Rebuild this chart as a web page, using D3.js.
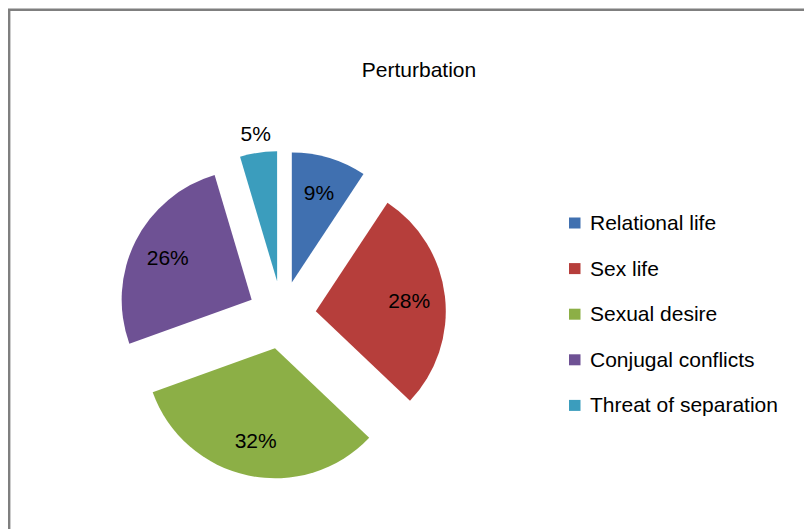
<!DOCTYPE html>
<html>
<head>
<meta charset="utf-8">
<script src="https://cdn.jsdelivr.net/npm/d3@7"></script>
<style>
    html, body { margin: 0; padding: 0; background: #fff; }
    svg { display: block; font-family: Arial, "Liberation Sans", sans-serif; }
</style>
</head>
<body>
<div id="chart"></div>
<script>
// Chart data (shares; labels show them rounded)
const categories = ['Relational life', 'Sex life', 'Sexual desire', 'Conjugal conflicts', 'Threat of separation'];
const values = [9.3, 27.8, 32.4, 25.9, 4.6];
const colors = ['#4070B0', '#B63E3B', '#8CAF46', '#6E5194', '#3B9DBD'];
const title = 'Perturbation';

const width = 804;
const height = 529;
const center = { x: 282, y: 315 };
const radius = 130;
const explode = 34;

const svg = d3.select('#chart')
    .append('svg')
    .attr('width', width)
    .attr('height', height);

// Chart frame (clipped on the right and bottom)
svg.append('path')
    .attr('d', `M9.2,${height} V9.7 H${width}`)
    .attr('fill', 'none')
    .attr('stroke', '#7F7F7F')
    .attr('stroke-width', 2.4);

// Title
svg.append('text')
    .attr('x', 419)
    .attr('y', 76.7)
    .attr('text-anchor', 'middle')
    .attr('font-size', 21)
    .attr('fill', '#000')
    .text(title);

const total = d3.sum(values);
const data = categories.map((name, i) => ({ name, value: values[i], color: colors[i] }));

const pie = d3.pie()
    .value(d => d.value)
    .sort(null);

const arc = d3.arc()
    .innerRadius(0)
    .outerRadius(radius);

const insideLabel = d3.arc().innerRadius(94).outerRadius(94);
const outsideLabel = d3.arc().innerRadius(radius + 19).outerRadius(radius + 19);

const slices = svg.append('g')
    .attr('transform', `translate(${center.x},${center.y})`)
    .selectAll('g')
    .data(pie(data))
    .join('g')
    .attr('transform', d => {
        const mid = (d.startAngle + d.endAngle) / 2;
        return `translate(${explode * Math.sin(mid)},${-explode * Math.cos(mid)})`;
    });

slices.append('path')
    .attr('d', arc)
    .attr('fill', d => d.data.color);

// Data labels: small slices get their label outside
slices.append('text')
    .attr('transform', d => {
        const small = d.data.value < 6;
        const pos = (small ? outsideLabel : insideLabel).centroid(d);
        return `translate(${pos[0]},${pos[1]})`;
    })
    .attr('dy', '0.35em')
    .attr('text-anchor', 'middle')
    .attr('font-size', 21)
    .attr('fill', '#000')
    .text(d => Math.round(d.data.value / total * 100) + '%');

// Legend
const legend = svg.append('g')
    .attr('transform', 'translate(569,230)')
    .selectAll('g')
    .data(data)
    .join('g')
    .attr('transform', (d, i) => `translate(0,${i * 45.6})`);

legend.append('rect')
    .attr('x', 0)
    .attr('y', -12.5)
    .attr('width', 11.5)
    .attr('height', 11)
    .attr('fill', d => d.color);

legend.append('text')
    .attr('x', 21)
    .attr('y', 0)
    .attr('font-size', 21)
    .attr('fill', '#000')
    .text(d => d.name);
</script>
</body>
</html>
